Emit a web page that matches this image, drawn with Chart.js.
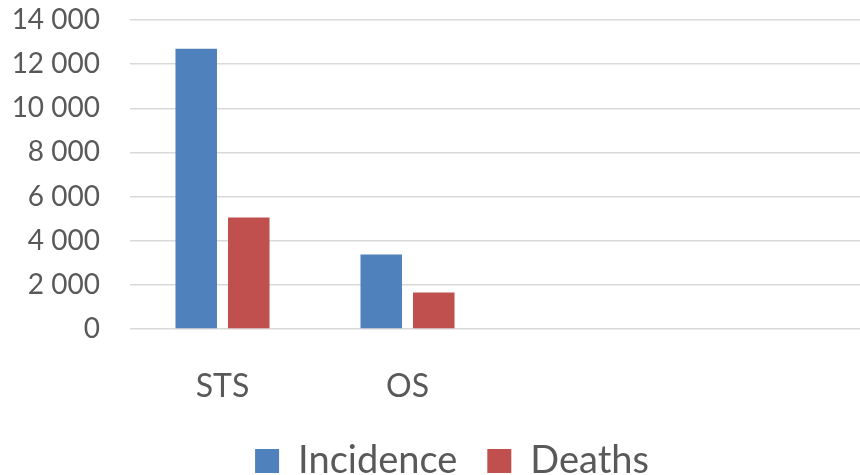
<!DOCTYPE html>
<html>
<head>
<meta charset="utf-8">
<script src="https://cdn.jsdelivr.net/npm/chart.js@4/dist/chart.umd.min.js"></script>
<style>
html,body{margin:0;padding:0;background:#fff;overflow:hidden;}
#wrap{position:relative;width:870px;height:475px;}
</style>
</head>
<body>
<div id="wrap"><canvas id="c"></canvas></div>
<script>
const categories = ['STS', 'OS', '', ''];
const incidence = [12700, 3380, null, null];
const deaths = [5050, 1650, null, null];
const yTicks = [0, 2000, 4000, 6000, 8000, 10000, 12000, 14000];

const fmt = v => String(v).replace(/\B(?=(\d{3})+(?!\d))/g, ' ');
const FONT = 'Lato, "Open Sans", sans-serif';
const GRAY = '#595959';

const legendShift = {
  id: 'legendShift',
  afterLayout(chart) {
    const lg = chart.legend;
    if (lg) { lg.left += 17; lg.right += 17; }
  }
};

new Chart(document.getElementById('c'), {
  type: 'bar',
  data: {
    labels: categories,
    datasets: [
      { label: 'Incidence', data: incidence, backgroundColor: '#4F81BD', barPercentage: 0.79, categoryPercentage: 0.568 },
      { label: 'Deaths', data: deaths, backgroundColor: '#C0504D', barPercentage: 0.79, categoryPercentage: 0.568 }
    ]
  },
  plugins: [legendShift],
  options: {
    responsive: true,
    maintainAspectRatio: false,
    animation: false,
    layout: { padding: { top: 0, right: 0, left: 0, bottom: -15 } },
    plugins: {
      tooltip: { enabled: false },
      legend: {
        position: 'bottom',
        labels: {
          font: { family: FONT, size: 38 },
          color: GRAY,
          boxWidth: 24,
          boxHeight: 24,
          padding: 30
        }
      }
    },
    scales: {
      x: {
        grid: { display: false },
        border: { display: false },
        ticks: { font: { family: FONT, size: 32 }, color: GRAY, padding: 30 },
        afterFit: s => { s.height = 83; }
      },
      y: {
        min: 0, max: 14000,
        afterBuildTicks: s => { s.ticks = yTicks.map(v => ({ value: v })); },
        grid: { color: '#d9d9d9', lineWidth: 1.5, drawTicks: false },
        border: { display: false },
        ticks: { font: { family: FONT, size: 28 }, color: GRAY, padding: 30, callback: v => fmt(v) },
        afterFit: s => { s.width = 130; s.paddingTop = 20; s.paddingBottom = 10; }
      }
    }
  }
});
</script>
</body>
</html>
